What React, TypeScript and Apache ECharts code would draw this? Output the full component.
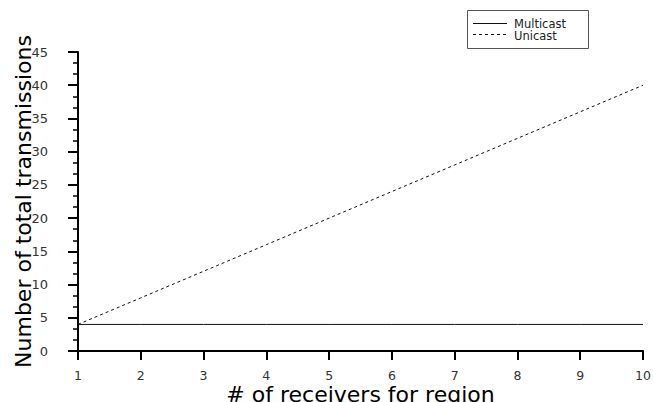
import React, { useEffect, useRef } from "react";
import * as echarts from "echarts";

const receivers = [1, 2, 3, 4, 5, 6, 7, 8, 9, 10];
const multicast = [4, 4, 4, 4, 4, 4, 4, 4, 4, 4];
const unicast = [4, 8, 12, 16, 20, 24, 28, 32, 36, 40];
const legendNames = ["Multicast", "Unicast"];

export default function App() {
  const ref = useRef<HTMLDivElement>(null);
  useEffect(() => {
    const chart = echarts.init(ref.current!, null, { renderer: "svg" });
    const font = "DejaVu Sans";
    chart.setOption({
      animation: false,
      textStyle: { fontFamily: font },
      grid: { left: 78, right: 10, top: 52, bottom: 51, outerBoundsMode: "none", containLabel: false },
      graphic: [
        {
          type: "rect",
          shape: { x: 467.5, y: 10.5, width: 121, height: 38 },
          style: { fill: "#fff", stroke: "#555", lineWidth: 1 },
        },
        {
          type: "line",
          shape: { x1: 473, y1: 23.5, x2: 507, y2: 23.5 },
          style: { stroke: "#111", lineWidth: 1 },
        },
        {
          type: "line",
          shape: { x1: 473, y1: 34.5, x2: 507, y2: 34.5 },
          style: { stroke: "#111", lineWidth: 1, lineDash: [3, 3] },
        },
        {
          type: "text",
          x: 514,
          y: 18.2,
          style: { text: legendNames[0], font: `11.5px "${font}"`, lineHeight: 11.5, fill: "#222" },
        },
        {
          type: "text",
          x: 514,
          y: 30.2,
          style: { text: legendNames[1], font: `11.5px "${font}"`, lineHeight: 11.5, fill: "#222" },
        },
      ],
      xAxis: {
        type: "value",
        min: 1,
        max: 10,
        interval: 1,
        name: "# of receivers for region",
        nameLocation: "middle",
        nameGap: 32,
        nameMoveOverlap: false,
        nameTextStyle: { fontFamily: font, fontSize: 22, color: "#000" },
        axisLine: { lineStyle: { color: "#000", width: 2 } },
        axisTick: { show: true, length: 9, lineStyle: { color: "#000", width: 2 } },
        axisLabel: { show: true, margin: 18, fontSize: 12.5, color: "#333", fontFamily: font },
        splitLine: { show: false },
      },
      yAxis: {
        type: "value",
        min: 0,
        max: 45,
        interval: 5,
        name: "Number of total transmissions",
        nameLocation: "middle",
        nameGap: 44,
        nameMoveOverlap: false,
        nameTextStyle: { fontFamily: font, fontSize: 22, color: "#000" },
        axisLine: { show: true, lineStyle: { color: "#000", width: 2 } },
        axisTick: { show: true, length: 10, lineStyle: { color: "#000", width: 2 } },
        minorTick: { show: true, splitNumber: 3, length: 5, lineStyle: { color: "#000", width: 1.5 } },
        axisLabel: { show: true, margin: 30, fontSize: 13, color: "#333", fontFamily: font },
        splitLine: { show: false },
      },
      series: [
        {
          name: legendNames[0],
          type: "line",
          data: receivers.map((x, i) => [x, multicast[i]]),
          symbol: "none",
          lineStyle: { color: "#111", width: 1, type: "solid" },
        },
        {
          name: legendNames[1],
          type: "line",
          data: receivers.map((x, i) => [x, unicast[i]]),
          symbol: "none",
          lineStyle: { color: "#111", width: 1, type: [3, 3] },
        },
      ],
    });
    return () => chart.dispose();
  }, []);
  return <div ref={ref} style={{ width: 653, height: 402, position: "absolute", left: 0, top: 0 }} />;
}
